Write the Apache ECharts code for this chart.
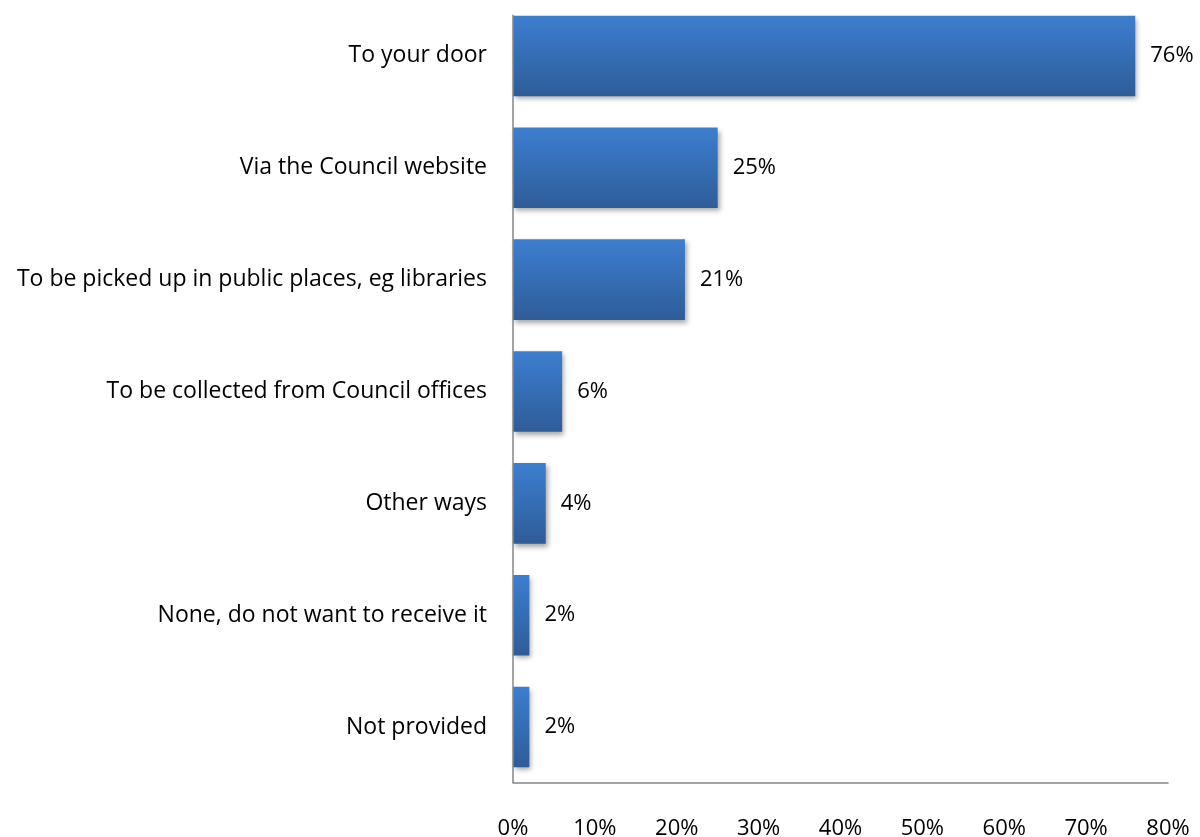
<!DOCTYPE html>
<html>
<head>
<meta charset="utf-8">
<script src="https://cdn.jsdelivr.net/npm/echarts@6/dist/echarts.min.js"></script>
<style>
  html, body { margin: 0; padding: 0; background: #fff; }
  #chart { width: 1200px; height: 837px; }
</style>
</head>
<body>
<div id="chart"></div>
<script>
// Preferred ways of receiving the Council newsletter (share of respondents)
const categories = [
  'To your door',
  'Via the Council website',
  'To be picked up in public places, eg libraries',
  'To be collected from Council offices',
  'Other ways',
  'None, do not want to receive it',
  'Not provided'
];
const shares = [76, 25, 21, 6, 4, 2, 2];
const axisTicks = { min: 0, max: 80, step: 10 };

const FONT = '"Open Sans", Lato, sans-serif';
const AXIS_GREY = '#868686';

const chart = echarts.init(document.getElementById('chart'), null, { renderer: 'canvas' });

chart.setOption({
  backgroundColor: '#ffffff',
  animation: false,
  grid: { left: 513, right: 32, top: 0, bottom: 54, containLabel: false, outerBoundsMode: 'none' },
  xAxis: {
    type: 'value',
    min: axisTicks.min,
    max: axisTicks.max,
    interval: axisTicks.step,
    axisLine: { show: true, lineStyle: { color: AXIS_GREY, width: 1.5 } },
    axisTick: { show: false },
    splitLine: { show: false },
    axisLabel: {
      formatter: '{value}%',
      color: '#000',
      fontFamily: FONT,
      fontSize: 22,
      margin: 35
    }
  },
  yAxis: {
    type: 'category',
    data: categories,
    inverse: true,
    axisLine: { show: false },
    axisTick: { show: false },
    axisLabel: {
      color: '#000',
      fontFamily: FONT,
      fontSize: 23,
      margin: 26,
      padding: [4, 0, 0, 0]
    }
  },
  series: [{
    type: 'bar',
    data: shares,
    barCategoryGap: '28%',
    itemStyle: {
      color: new echarts.graphic.LinearGradient(0, 0, 0, 1, [
        { offset: 0, color: '#3c7ecf' },
        { offset: 1, color: '#2e5c98' }
      ]),
      shadowColor: 'rgba(0,0,0,0.35)',
      shadowBlur: 5,
      shadowOffsetX: 2,
      shadowOffsetY: 3
    },
    label: {
      show: true,
      position: 'right',
      distance: 15,
      formatter: '{c}%',
      color: '#000',
      fontFamily: FONT,
      fontSize: 22,
      padding: [4, 0, 0, 0]
    }
  }]
});

// Vertical axis line: runs from just above the first bar down to the value axis
const bars = chart.getModel().getSeriesByIndex(0).getData();
const firstBar = bars.getItemLayout(0);
const x0 = chart.convertToPixel({ xAxisIndex: 0 }, 0);
const plot = chart.getModel().getComponent('grid', 0).coordinateSystem.getRect();
chart.setOption({
  graphic: [{
    type: 'line',
    z: 10,
    shape: { x1: x0, y1: firstBar.y - 1, x2: x0, y2: plot.y + plot.height },
    style: { stroke: AXIS_GREY, lineWidth: 1.5 }
  }]
});
</script>
</body>
</html>
